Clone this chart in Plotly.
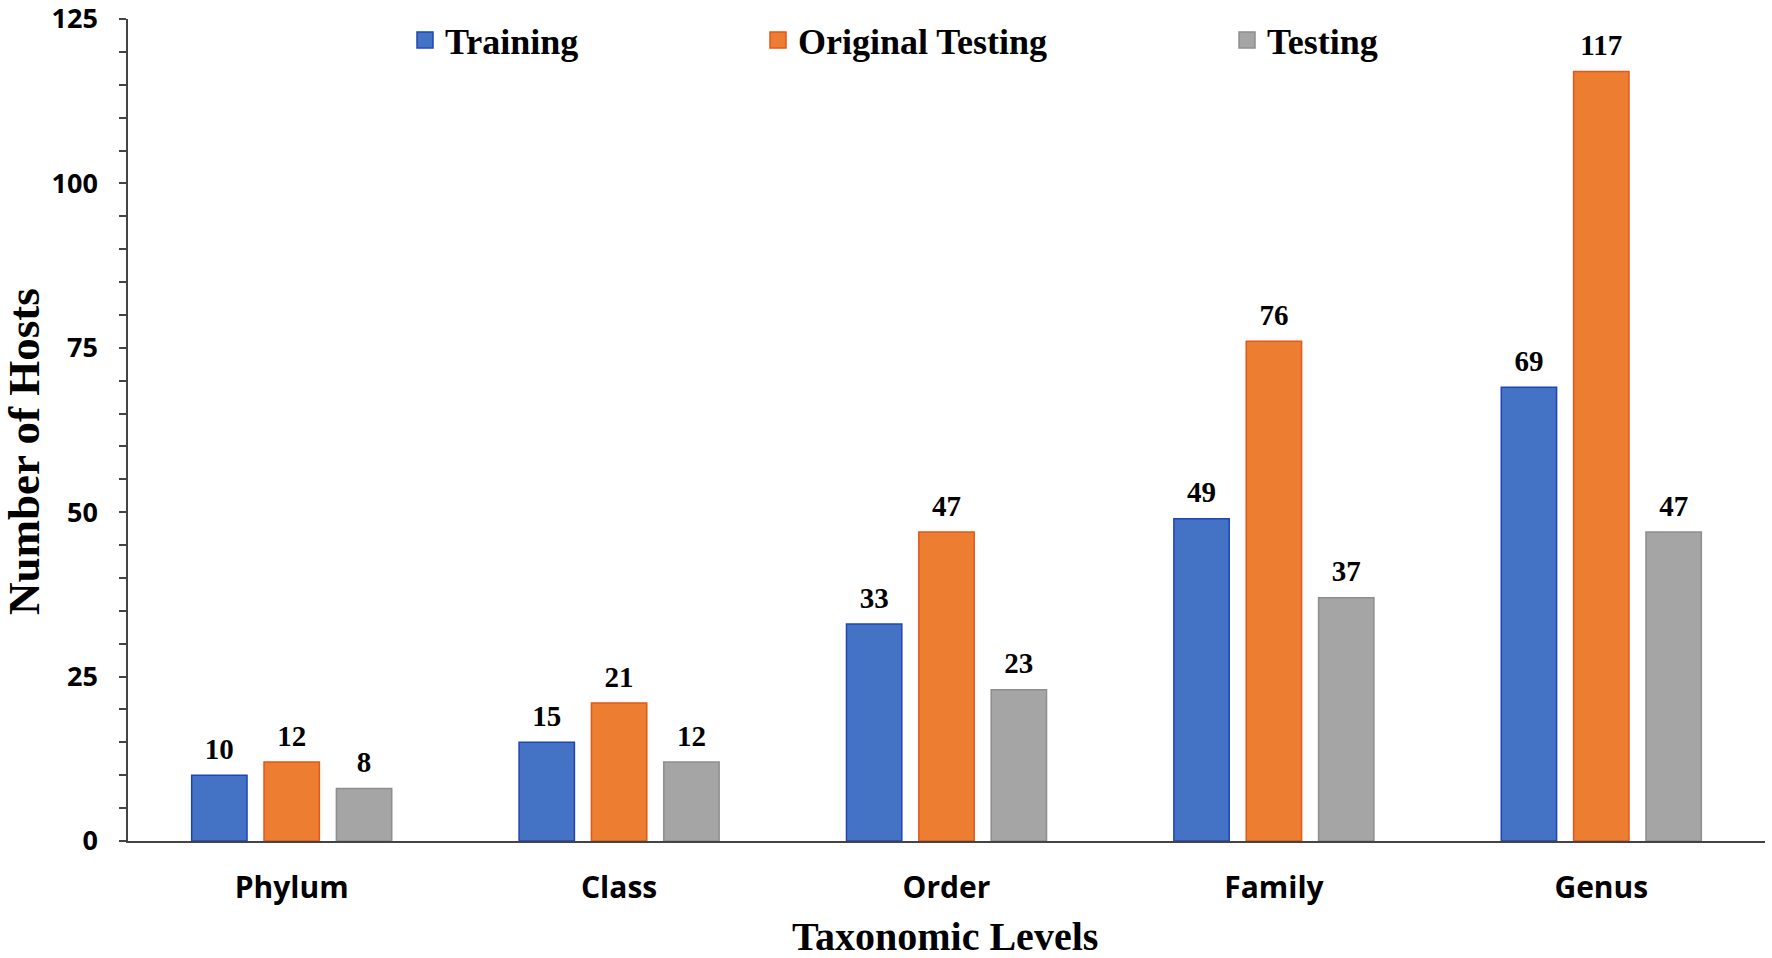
import plotly.graph_objects as go

categories = ["Phylum", "Class", "Order", "Family", "Genus"]
series_names = ["Training", "Original Testing", "Testing"]
training = [10, 15, 33, 49, 69]
original_testing = [12, 21, 47, 76, 117]
testing = [8, 12, 23, 37, 47]
y_tick_vals = [0, 25, 50, 75, 100, 125]

fills = ["#4472C4", "#ED7D31", "#A5A5A5"]
borders = ["#1F45B5", "#E2571A", "#8E8E8E"]
legend_ids = ["legend", "legend2", "legend3"]
legend_x = [405 / 1772, 758 / 1772, 1227 / 1772]

W, H = 1772, 958
ML, MR, MT, MB = 128, 7, 19, 117

serif = "Liberation Serif"
sans = "Open Sans"

fig = go.Figure()
for name, vals, fc, bc, lg in zip(series_names, [training, original_testing, testing], fills, borders, legend_ids):
    fig.add_trace(go.Bar(
        name=name,
        x=categories,
        y=vals,
        marker=dict(color=fc, line=dict(color=bc, width=1.5)),
        texttemplate="<sub><sub> </sub></sub>%{y}<sub><sub> </sub></sub>",
        textposition="outside",
        constraintext="none",
        cliponaxis=False,
        textfont=dict(family=serif, size=29, color="black", weight="bold"),
        showlegend=False,
        legendgroup=name,
        hoverinfo="x+y+name",
    ))

# legend-only entries (square swatches like the reference)
for name, fc, bc, lg in zip(series_names, fills, borders, legend_ids):
    fig.add_trace(go.Scatter(
        name=name,
        x=[None], y=[None],
        mode="markers",
        marker=dict(symbol="square", size=16, color=fc, line=dict(color=bc, width=1.5)),
        legend=lg,
        legendgroup=name,
        showlegend=True,
        hoverinfo="skip",
    ))

legend_common = dict(
    orientation="h",
    xref="container",
    yref="container",
    xanchor="left",
    yanchor="middle",
    y=1 - 40 / H,
    font=dict(family=serif, size=36, color="black", weight="bold"),
    bgcolor="rgba(0,0,0,0)",
)

layout_legends = {}
for lg, lx in zip(legend_ids, legend_x):
    layout_legends[lg] = dict(legend_common, x=lx)

axis_color = "#444444"

fig.update_layout(
    width=W,
    height=H,
    margin=dict(l=ML, r=MR, t=MT, b=MB, autoexpand=False),
    paper_bgcolor="white",
    plot_bgcolor="white",
    barmode="group",
    bargap=0.337,
    bargroupgap=0.235,
    showlegend=True,
    **layout_legends,
    xaxis=dict(
        showline=True,
        linecolor=axis_color,
        linewidth=2,
        ticks="",
        showgrid=False,
        tickfont=dict(family=sans, size=30, color="black", weight="bold"),
        ticklabelstandoff=19,
    ),
    yaxis=dict(
        range=[0, 125],
        tickvals=y_tick_vals,
        showline=True,
        linecolor=axis_color,
        linewidth=1.5,
        ticks="outside",
        ticklen=7,
        tickwidth=1.5,
        tickcolor=axis_color,
        minor=dict(dtick=5, ticks="outside", ticklen=7, tickwidth=1.5, tickcolor=axis_color),
        showgrid=False,
        zeroline=False,
        tickfont=dict(family=sans, size=27, color="black", weight="bold"),
        ticklabelstandoff=16,
        ticklabeloverflow="allow",
    ),
    annotations=[
        dict(
            text="Number of Hosts",
            textangle=-90,
            xref="paper", yref="paper",
            x=(24 - ML) / (W - ML - MR), y=(H - MB - 452) / (H - MT - MB),
            xanchor="center", yanchor="middle",
            showarrow=False,
            font=dict(family=serif, size=45, color="black", weight="bold"),
        ),
        dict(
            text="Taxonomic Levels",
            xref="paper", yref="paper",
            x=(945 - ML) / (W - ML - MR), y=(H - MB - 936) / (H - MT - MB),
            xanchor="center", yanchor="middle",
            showarrow=False,
            font=dict(family=serif, size=40, color="black", weight="bold"),
        ),
    ],
)

fig.write_html(
    "out.html",
    config={"displayModeBar": False},
    post_script="document.body.style.margin='0';document.body.style.overflow='hidden';",
)
